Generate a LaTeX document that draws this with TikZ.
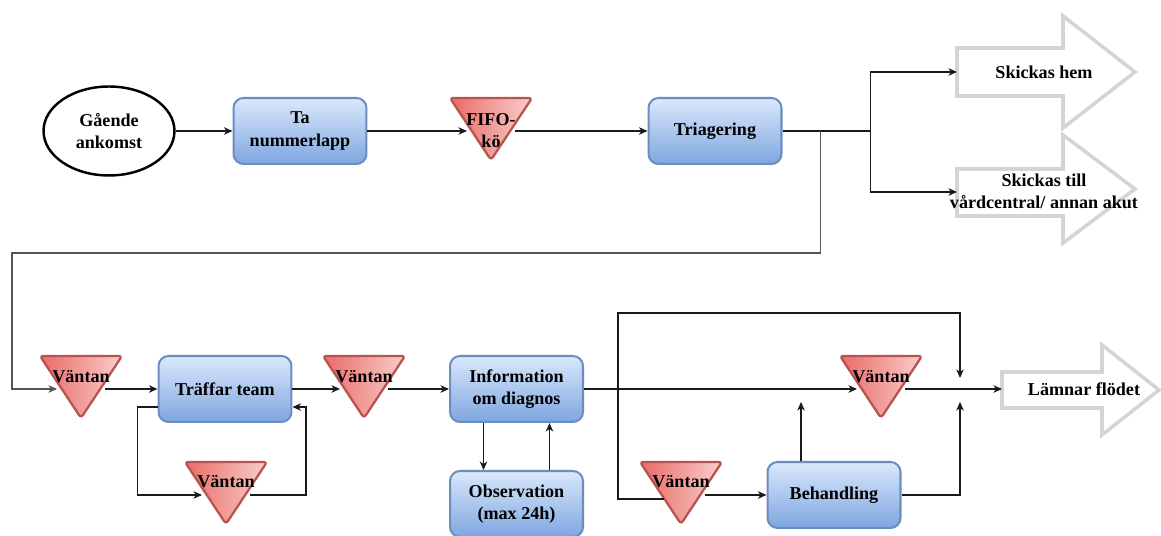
\documentclass[tikz,border=0pt]{standalone}
\usepackage{fontspec}
\setmainfont{Liberation Serif}
\usetikzlibrary{arrows.meta,calc,shapes.geometric}

\definecolor{boxtop}{HTML}{DAE8FC}
\definecolor{boxbot}{HTML}{7EA6E0}
\definecolor{boxline}{HTML}{6C8EBF}
\definecolor{waitleft}{HTML}{EA6B66}
\definecolor{waitright}{HTML}{F8CECC}
\definecolor{waitline}{HTML}{B85450}
\definecolor{exitline}{HTML}{D4D4D4}
\definecolor{wire}{HTML}{1A1A1A}
\definecolor{wiregray}{HTML}{555555}

\tikzset{
  lbl/.style={font=\fontsize{10.3}{12.6}\selectfont\bfseries, align=center, text=black, inner sep=0pt},
  procbox/.style={lbl, draw=boxline, line width=1.15pt, rounded corners=0.2cm,
    top color=boxtop, bottom color=boxbot, minimum width=2.66cm, minimum height=1.32cm},
  startnode/.style={lbl, ellipse, draw=black, line width=1.4pt, fill=white,
    minimum width=2.62cm, minimum height=1.78cm},
  conn/.style={draw=wire, line width=0.6pt, -{Stealth[length=0.17cm,width=0.15cm,inset=0.05cm]}},
  plain/.style={draw=wire, line width=0.6pt},
  waitshape/.style={left color=waitleft, right color=waitright, draw=waitline,
    line width=1.3pt, rounded corners=0.06cm, line join=round},
  exitshape/.style={draw=exitline, fill=white, line width=2pt, line join=miter},
}

% queue triangle: name, centre x, top y, label offset, label
\newcommand\waitq[5]{%
  \path[waitshape] ({#2-41},#3) -- ({#2+41},#3) -- (#2,{#3+62}) -- cycle;
  \coordinate (#1-l) at ({#2-24},{#3+33});
  \coordinate (#1-r) at ({#2+24},{#3+33});
  \node[lbl] (#1) at (#2,{#3+#4}) {#5};
}

\begin{document}
\begin{tikzpicture}[x=0.02cm, y=-0.02cm]
\path[fill=white, use as bounding box] (0,0) rectangle (1161,536);

% exit arrows
\path[exitshape] (957,48) -- (1063,48) -- (1063,16) -- (1135,72) -- (1063,128) -- (1063,96) -- (957,96) -- cycle;
\node[lbl] (home) at (1044,72) {Skickas hem};
\coordinate (home-l) at (957,72);

\path[exitshape] (957,169) -- (1063,169) -- (1063,135) -- (1135,189) -- (1063,243) -- (1063,216) -- (957,216) -- cycle;
\node[lbl] (refer) at (1044,191) {Skickas till\\vårdcentral/ annan akut};
\coordinate (refer-l) at (957,192);

\path[exitshape] (1002,372) -- (1102,372) -- (1102,345) -- (1159,390) -- (1102,435) -- (1102,408) -- (1002,408) -- cycle;
\node[lbl] (leave) at (1084,389) {Lämnar flödet};
\coordinate (leave-l) at (1002,389);

% process steps
\node[startnode] (arr) at (109,131) {Gående\\ankomst};
\node[procbox] (ta) at (300,131) {Ta\\nummerlapp};
\node[procbox] (tri) at (715,131) {Triagering};
\node[procbox] (team) at (225,389) {Träffar team};
\node[procbox] (info) at (516.5,389) {Information\\om diagnos};
\node[procbox] (obs) at (516.5,504) {Observation\\(max 24h)};
\node[procbox] (beh) at (834,495) {Behandling};

% queues
\waitq{fifo}{491}{98}{33}{FIFO-\\kö}
\waitq{wa}{81}{356}{21}{Väntan}
\waitq{wb}{364}{356}{21}{Väntan}
\waitq{wc}{226}{462}{20}{Väntan}
\waitq{wd}{881}{356}{21}{Väntan}
\waitq{we}{681}{462}{20}{Väntan}
\coordinate (we-in) at (664,499);

% top row flow
\draw[conn] (arr.east) -- (ta.west);
\draw[conn] (ta.east) -- (fifo-l);
\draw[conn] (fifo-r) -- (tri.west);
\coordinate (branch) at ([xshift=0.76cm]tri.east);
\coordinate (split) at ([xshift=1.76cm]tri.east);
\coordinate (turn) at (12,253);
\draw[plain] (tri.east) -- (split);
\draw[conn] (split) |- (home-l);
\draw[conn] (split) |- (refer-l);
\draw[conn, draw=wiregray] (branch) |- (turn) |- (wa-l);

% bottom row flow
\draw[conn] (wa-r) -- (team.west);
\draw[conn] (team.east) -- (wb-l);
\draw[conn] (wb-r) -- (info.west);
\draw[conn] ([yshift=0.32cm]team.south west) -- ++(-20,0) |- (wc-l);
\draw[conn] (wc-r) -- ++(56,0) |- ([yshift=0.32cm]team.south east);
\draw[conn] ([xshift=-0.66cm]info.south) -- ([xshift=-0.66cm]obs.north);
\draw[conn] ([xshift=0.66cm]obs.north) -- ([xshift=0.66cm]info.south);

\coordinate (fork) at ([xshift=0.68cm]info.east);
\coordinate (exit) at (960,389);
\coordinate (above) at ([yshift=0.22cm]exit);
\coordinate (below) at ([yshift=-0.26cm]exit);
\draw[conn] (info.east) -- (wd-l);
\draw[conn] (wd-r) -- (leave-l);
\draw[conn] (fork) -- ++(0,-76) -| (above);
\draw[plain] (fork) |- (we-in);
\draw[conn] (we-r) -- (beh.west);
\coordinate (bup) at ([xshift=-0.66cm]beh.north);
\draw[conn] (bup) -- (bup |- below);
\draw[conn] (beh.east) -| (below);
\end{tikzpicture}
\end{document}
